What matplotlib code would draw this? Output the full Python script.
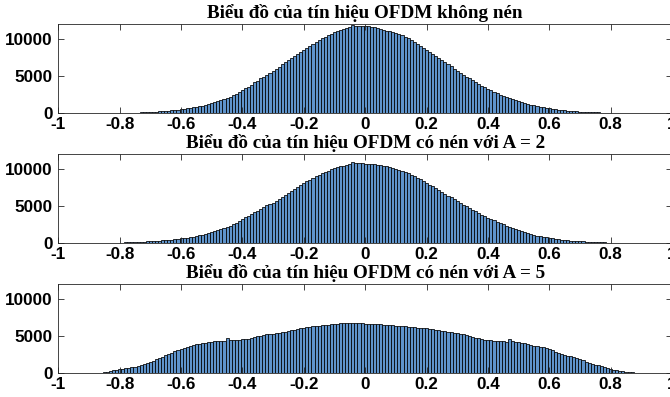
import numpy as np
import matplotlib
matplotlib.use("Agg")
import matplotlib.pyplot as plt

# ---------------- data (bin counts, bin width 0.01) ----------------
bin_width = 0.01

titles = [
    "Biểu đồ của tín hiệu OFDM không nén",
    "Biểu đồ của tín hiệu OFDM có nén với A = 2",
    "Biểu đồ của tín hiệu OFDM có nén với A = 5",
]

# no compression: first bin centre at -0.80
start_none = -0.80
counts_none = [
    40, 45, 55, 60, 75, 85, 100, 115, 130, 150,
    170, 195, 220, 250, 285, 320, 360, 405, 450, 500,
    550, 610, 670, 740, 810, 880, 960, 1040, 1130, 1230,
    1350, 1470, 1600, 1790, 1920, 2080, 2250, 2450, 2640, 2850,
    3080, 3340, 3600, 3860, 4150, 4400, 4680, 4930, 5200, 5470,
    5740, 6000, 6280, 6600, 6880, 7150, 7430, 7700, 8000, 8280,
    8560, 8840, 9100, 9360, 9600, 9850, 10080, 10300, 10520, 10700,
    10890, 11050, 11200, 11340, 11460, 11560, 11900, 11720, 11760, 11790,
    11750, 11700, 11650, 11560, 11400, 11300, 11200, 11100, 11000, 10900,
    10800, 10700, 10520, 10310, 10090, 9855, 9615, 9365, 9105, 8840,
    8570, 8290, 8010, 7730, 7445, 7155, 6870, 6585, 6300, 6020,
    5745, 5470, 5200, 4940, 4680, 4430, 4185, 3945, 3715, 3495,
    3280, 3075, 2875, 2690, 2510, 2335, 2170, 2015, 1870, 1730,
    1595, 1475, 1355, 1245, 1145, 1050, 960, 875, 800, 730,
    660, 600, 545, 495, 445, 400, 360, 325, 290, 260,
    235, 210, 185, 165, 148, 130, 115, 100, 90, 80,
    70, 55, 45,
]

# compression A = 2: first bin centre at -0.86
start_a2 = -0.86
counts_a2 = [
    30, 35, 45, 55, 65, 75, 90, 100, 115, 130,
    145, 160, 180, 200, 220, 245, 270, 300, 330, 360,
    395, 430, 470, 510, 560, 600, 650, 710, 770, 840,
    910, 990, 1080, 1170, 1270, 1380, 1500, 1630, 1760, 1900,
    2050, 2200, 2360, 2560, 2760, 2980, 3250, 3480, 3700, 3930,
    4150, 4380, 4620, 4860, 5100, 5340, 5450, 5700, 5980, 6250,
    6520, 6780, 7060, 7320, 7560, 7820, 8080, 8320, 8560, 8780,
    8980, 9200, 9400, 9580, 9760, 9920, 10080, 10210, 10340, 10450,
    10560, 10700, 10900, 10850, 10800, 10760, 10720, 10690, 10650, 10620,
    10580, 10520, 10440, 10350, 10250, 10130, 10000, 9880, 9740, 9580,
    9400, 9220, 9010, 8800, 8580, 8360, 8120, 7890, 7650, 7410,
    7170, 6920, 6670, 6420, 6180, 5930, 5690, 5450, 5210, 4970,
    4740, 4510, 4290, 4070, 3860, 3660, 3460, 3260, 3070, 2890,
    2720, 2550, 2390, 2230, 2080, 1930, 1790, 1650, 1510, 1380,
    1250, 1120, 1010, 930, 850, 780, 710, 650, 600, 550,
    500, 455, 415, 375, 340, 305, 275, 250, 225, 200,
    180, 160, 140, 125, 110, 100, 90, 75, 65, 55,
    45, 35,
]

# compression A = 5: first bin centre at -0.93
start_a5 = -0.93
counts_a5 = [
    15, 25, 35, 45, 55, 65, 80, 100, 140, 200,
    270, 380, 480, 580, 620, 660, 700, 780, 860, 960,
    1100, 1250, 1420, 1580, 1720, 1880, 2050, 2220, 2400, 2560,
    2780, 2980, 3100, 3250, 3400, 3560, 3700, 3850, 3950, 4000,
    4050, 4100, 4200, 4230, 4310, 4360, 4300, 4400, 4680, 4450,
    4480, 4530, 4480, 4550, 4560, 4600, 4700, 4830, 4950, 5060,
    5150, 5220, 5250, 5300, 5360, 5450, 5520, 5600, 5680, 5800,
    5880, 5980, 6080, 6150, 6210, 6250, 6290, 6350, 6420, 6460,
    6500, 6530, 6560, 6640, 6680, 6720, 6740, 6750, 6770, 6740,
    6750, 6720, 6700, 6660, 6680, 6650, 6660, 6620, 6580, 6540,
    6510, 6480, 6450, 6420, 6380, 6330, 6300, 6250, 6200, 6170,
    6140, 6100, 6080, 6060, 5990, 5900, 5840, 5760, 5680, 5620,
    5570, 5520, 5480, 5400, 5320, 5230, 5130, 5020, 4900, 4800,
    4700, 4600, 4500, 4460, 4430, 4400, 4370, 4330, 4290, 4270,
    4600, 4300, 4250, 4180, 4100, 4030, 3920, 3800, 3700, 3640,
    3560, 3480, 3350, 3200, 3080, 2900, 2760, 2620, 2480, 2360,
    2260, 2150, 2020, 1900, 1740, 1580, 1420, 1300, 1180, 1050,
    920, 800, 690, 590, 500, 420, 340, 280, 220, 170,
    130, 95, 70, 50, 35, 20,
]

starts = [start_none, start_a2, start_a5]
all_counts = [counts_none, counts_a2, counts_a5]

x_ticks = [-1, -0.8, -0.6, -0.4, -0.2, 0, 0.2, 0.4, 0.6, 0.8, 1]
x_tick_labels = ["-1", "-0.8", "-0.6", "-0.4", "-0.2", "0", "0.2", "0.4", "0.6", "0.8", "1"]
y_ticks = [0, 5000, 10000]
y_tick_labels = ["0", "5000", "10000"]

# ---------------- figure ----------------
W, H = 670, 397
fig = plt.figure(figsize=(W / 100, H / 100), dpi=100)

bar_color = "#5f94cc"
axis_color = "#262626"
tick_font = dict(family="Liberation Sans", weight="bold", size=12.3)
title_font = dict(family="Liberation Serif", weight="bold", size=13.8)

# axes boxes in pixels: (top, bottom)
boxes = [(24, 113.3), (154, 243.3), (284, 373.3)]
left_px, right_px = 58.3, 672

for (top, bottom), title, start, counts in zip(boxes, titles, starts, all_counts):
    ax = fig.add_axes([left_px / W, (H - bottom) / H,
                       (right_px - left_px) / W, (bottom - top) / H])
    counts = np.asarray(counts, dtype=float)
    centers = start + bin_width * np.arange(len(counts))
    ax.bar(centers, counts, width=bin_width, color=bar_color,
           edgecolor="black", linewidth=0.55, align="center")
    ax.set_xlim(-1, 1)
    ax.set_ylim(0, 12000)
    ax.set_xticks(x_ticks)
    ax.set_xticklabels(x_tick_labels, fontdict=tick_font, color="black")
    ax.set_yticks(y_ticks)
    ax.set_yticklabels(y_tick_labels, fontdict=tick_font, color="black")
    ax.tick_params(direction="in", length=4, width=0.6, colors=axis_color,
                   top=True, right=True, pad=4)
    ax.tick_params(axis="x", pad=3)
    for lab in ax.get_xticklabels() + ax.get_yticklabels():
        lab.set_color("black")
    for sp in ax.spines.values():
        sp.set_color(axis_color)
        sp.set_linewidth(0.6)
    ax.set_title(title, fontdict=title_font, pad=4)

fig.savefig("out.png", dpi=100)
